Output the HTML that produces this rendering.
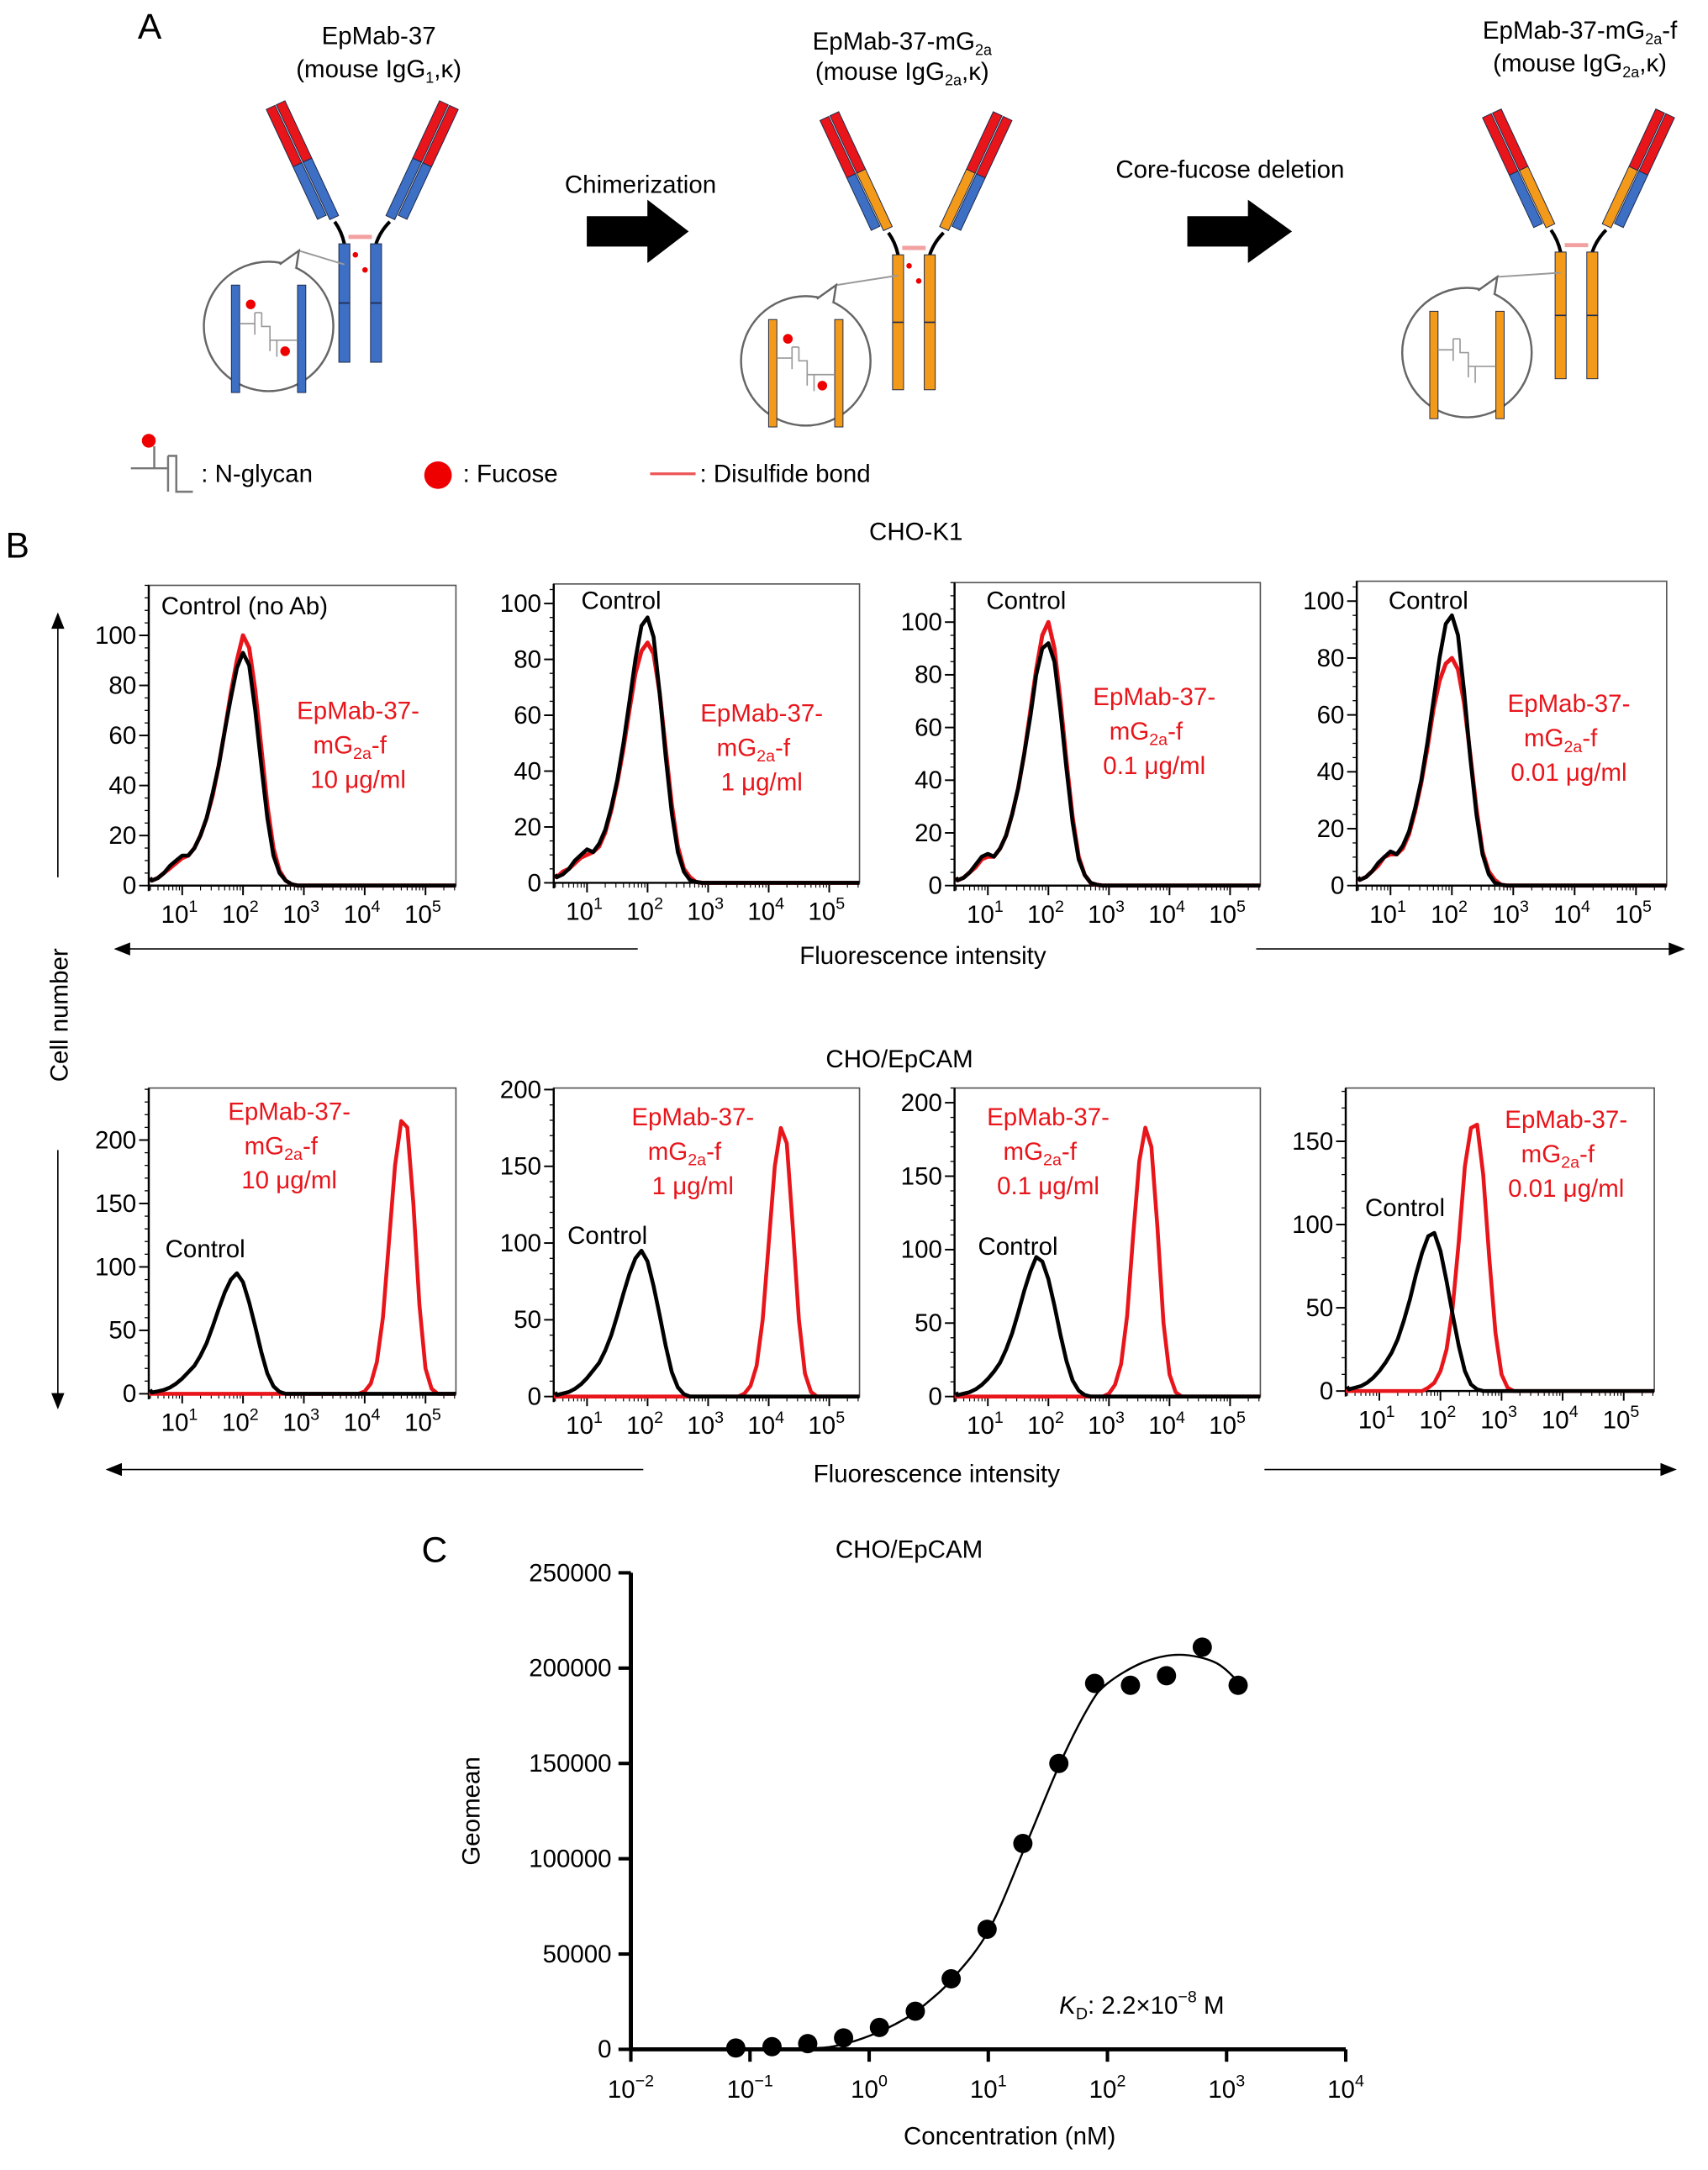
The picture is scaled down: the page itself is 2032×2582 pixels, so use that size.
<!DOCTYPE html>
<html><head><meta charset="utf-8">
<style>
html,body{margin:0;padding:0;background:#fff;}
svg{display:block;font-family:"Liberation Sans",Arial,sans-serif;}
</style></head>
<body>
<svg id="fig" xmlns="http://www.w3.org/2000/svg" width="2032" height="2582" viewBox="0 0 1240 1575.6">
<rect width="1240" height="1575.6" fill="#fff"/>
<!-- Panel A -->
<g id="panelA">
<text x="100" y="28" font-size="26">A</text>
<text x="275" y="32" font-size="18" text-anchor="middle">EpMab-37</text>
<text x="275" y="56" font-size="18" text-anchor="middle">(mouse IgG<tspan font-size="11" dy="4">1</tspan><tspan dy="-4">,κ)</tspan></text>
<text x="655" y="36" font-size="18" text-anchor="middle">EpMab-37-mG<tspan font-size="11" dy="4">2a</tspan></text>
<text x="655" y="58" font-size="18" text-anchor="middle">(mouse IgG<tspan font-size="11" dy="4">2a</tspan><tspan dy="-4">,κ)</tspan></text>
<text x="1147" y="28" font-size="18" text-anchor="middle">EpMab-37-mG<tspan font-size="11" dy="4">2a</tspan><tspan dy="-4">-f</tspan></text>
<text x="1147" y="52" font-size="18" text-anchor="middle">(mouse IgG<tspan font-size="11" dy="4">2a</tspan><tspan dy="-4">,κ)</tspan></text>
<text x="465" y="140" font-size="18" text-anchor="middle">Chimerization</text>
<polygon points="426,157 470,157 470,145 500,168 470,191 470,179 426,179" fill="#000"/>
<text x="893" y="129" font-size="18" text-anchor="middle">Core-fucose deletion</text>
<polygon points="862,157 906,157 906,145 938,168 906,191 906,179 862,179" fill="#000"/>
<g id="abs"></g>
<g>
<path d="M95,340 H122 M112,324 V340 M122,331 H128 V357 H140 M122,331 V357" stroke="#777" stroke-width="1.5" fill="none"/>
<path d="M122,331 H128 V357 H140" stroke="#777" stroke-width="1.5" fill="none"/>
<circle cx="108" cy="320" r="5" fill="#e00"/>
<text x="146" y="350" font-size="18">: N-glycan</text>
<circle cx="318" cy="345" r="10" fill="#e00"/>
<text x="336" y="350" font-size="18">: Fucose</text>
<line x1="472" y1="344" x2="505" y2="344" stroke="#e55" stroke-width="2"/>
<text x="508" y="350" font-size="18">: Disulfide bond</text>
</g>
</g>
<!-- Panel B -->
<g id="panelB">
<text x="4" y="405" font-size="26">B</text>
<text x="665" y="392" font-size="18" text-anchor="middle">CHO-K1</text>
<text x="653" y="775" font-size="18" text-anchor="middle">CHO/EpCAM</text>
<text transform="translate(49,737) rotate(-90)" font-size="18" text-anchor="middle">Cell number</text>
<g stroke="#000" stroke-width="1" fill="#000">
<line x1="42" y1="452" x2="42" y2="637"/><polygon points="38,456 46,456 42,446"/>
<line x1="42" y1="835" x2="42" y2="1016"/><polygon points="38,1012 46,1012 42,1022"/>
<line x1="90" y1="689" x2="463" y2="689"/><polygon points="94,685 94,693 84,689"/>
<line x1="912" y1="689" x2="1216" y2="689"/><polygon points="1212,685 1212,693 1222,689"/>
<line x1="84" y1="1067" x2="467" y2="1067"/><polygon points="88,1063 88,1071 78,1067"/>
<line x1="918" y1="1067" x2="1210" y2="1067"/><polygon points="1206,1063 1206,1071 1216,1067"/>
</g>
<text x="670" y="700" font-size="18" text-anchor="middle">Fluorescence intensity</text>
<text x="680" y="1076" font-size="18" text-anchor="middle">Fluorescence intensity</text>
<g id="hists"></g>
</g>
<!-- Panel C -->
<g id="panelC">
<text x="306" y="1134" font-size="26">C</text>
<text x="660" y="1131" font-size="18" text-anchor="middle">CHO/EpCAM</text>
<text transform="translate(348,1315) rotate(-90)" font-size="18" text-anchor="middle">Geomean</text>
<text x="733" y="1557" font-size="18" text-anchor="middle">Concentration (nM)</text>
<text x="769" y="1462" font-size="18"><tspan font-style="italic">K</tspan><tspan font-size="12" dy="4">D</tspan><tspan dy="-4">: 2.2×10</tspan><tspan font-size="12" dy="-8">−8</tspan><tspan dy="8"> M</tspan></text>
<g id="chartC"></g>
</g>
</svg>
<script>
// ---------- Panel B data ----------
const histLogX = [0.5,0.6,0.7,0.8,0.9,1.0,1.1,1.2,1.3,1.4,1.5,1.6,1.7,1.8,1.9,2.0,2.1,2.2,2.3,2.4,2.5,2.6,2.7,2.8,2.9,3.0];
const r1Control1 = [2,3,5,8,10,12,12,15,20,27,37,48,62,75,87,93,88,70,48,27,12,5,2,0.5,0,0];
const r1Ab1 = [2,3,5,7,9,11,12,15,20,27,36,48,62,77,90,100,95,78,55,32,15,6,2,0.5,0,0];
const r1Control2 = [2,3,5,8,10,12,11,14,19,27,37,50,65,80,92,95,88,68,45,25,11,4,1,0.3,0,0];
const r1Ab2 = [2,4,5,7,9,10,11,13,18,26,36,48,62,75,83,86,82,68,48,28,13,5,2,0.3,0,0];
const r1Control3 = [2,3,5,8,11,12,11,14,19,27,37,50,64,80,90,92,85,66,44,24,10,4,1,0.3,0,0];
const r1Ab3 = [2,3,5,7,10,11,11,14,19,27,37,50,66,82,95,100,90,70,47,26,11,4,1,0.3,0,0];
const r1Control4 = [2,3,5,8,10,12,11,14,19,27,37,50,65,80,92,95,88,68,45,25,11,4,1,0.3,0,0];
const r1Ab4 = [2,3,5,7,10,11,11,13,18,26,36,48,62,72,78,80,76,64,46,27,12,5,2,0.3,0,0];
const r2Control1 = [1,2,3,5,8,12,17,22,30,40,53,67,80,90,95,88,72,53,33,16,6,1.5,0,0,0,0];
const r2Control2 = [1,2,3,5,8,12,17,22,30,40,53,67,80,90,95,88,72,53,33,16,6,1.5,0,0,0,0];
const r2Control3 = [1,2,3,5,8,12,17,23,32,43,57,72,85,95,92,80,62,42,24,11,4,1,0,0,0,0];
const r2Control4 = [1,2,3,5,8,12,17,23,31,42,55,70,83,93,95,84,66,46,27,12,4,1,0,0,0,0];
const r2AbLogX1 = [3.9,4.0,4.1,4.2,4.3,4.4,4.5,4.6,4.7,4.8,4.9,5.0,5.1,5.2];
const r2Ab1 = [0,2,8,25,60,120,180,215,210,150,70,20,4,0];
const r2AbLogX2 = [3.5,3.6,3.7,3.8,3.9,4.0,4.1,4.2,4.3,4.4,4.5,4.6,4.7,4.8];
const r2Ab2 = [0,2,7,20,50,100,150,175,165,110,50,15,3,0];
const r2AbLogX3 = [2.9,3.0,3.1,3.2,3.3,3.4,3.5,3.6,3.7,3.8,3.9,4.0,4.1,4.2];
const r2Ab3 = [0,2,8,22,55,110,160,183,170,115,50,15,3,0];
const r2AbLogX4 = [1.7,1.8,1.9,2.0,2.1,2.2,2.3,2.4,2.5,2.6,2.7,2.8,2.9,3.0,3.1,3.2];
const r2Ab4 = [0,2,5,12,25,50,90,135,158,160,130,80,35,10,2,0];
const row1YTicks = [0,20,40,60,80,100];
const row2YTicks = [0,50,100,150,200];
const row2YTicks4 = [0,50,100,150];
const xDecades = [1,2,3,4,5];
// ---------- Panel C data ----------
const concNM = [0.076,0.153,0.305,0.61,1.22,2.44,4.88,9.77,19.5,39.1,78.1,156,313,625,1250];
const geomean = [700,1400,3000,6000,11500,20000,37000,63000,108000,150000,192000,191000,196000,211000,191000];
const fitConc = [0.3,0.5,1,2,3,5,10,20,40,70,100,200,400,800,1250];
const fitGeomean = [500,1500,7000,16000,24000,37000,62000,105000,150000,180000,192000,203000,207000,203000,193000];
const cYTicks = [0,50000,100000,150000,200000,250000];
const cXDecades = [-2,-1,0,1,2,3,4];

const NS = "http://www.w3.org/2000/svg";
function mk(tag, attrs, parent){const e=document.createElementNS(NS,tag);for(const k in attrs)e.setAttribute(k,attrs[k]);if(parent)parent.appendChild(e);return e;}

// ---------- Antibodies ----------
const abs = document.getElementById('abs');
function antibody(i, dx, dy, heavy, fucose, cx, cy, stemLen){
  const g = mk('g',{transform:`translate(${dx},${dy})`},abs);
  
  
  const blue='#3d6fc4', red='#e8151b', ol='#1c2a4a';
  [[243,160,-25,-1],[283,160,25,1]].forEach(([tx,ty,rot,side])=>{
    const a = mk('g',{transform:`translate(${tx},${ty}) rotate(${rot})`},g);
    const lx = side<0?-11:4, hx = side<0?-3:-4;
    mk('rect',{x:lx,y:-94,width:7,height:46,fill:red,stroke:ol,'stroke-width':0.6},a);
    mk('rect',{x:lx,y:-48,width:7,height:42,fill:blue,stroke:ol,'stroke-width':0.6},a);
    mk('rect',{x:hx,y:-94,width:7,height:46,fill:red,stroke:ol,'stroke-width':0.6},a);
    mk('rect',{x:hx,y:-48,width:7,height:46,fill:heavy,stroke:ol,'stroke-width':0.6},a);
  });
  mk('path',{d:'M243,161 Q248,168 250,177 M283,161 Q276,168 273,177',stroke:'#000','stroke-width':2.5,fill:'none'},g);
  mk('line',{x1:253,y1:172,x2:270,y2:172,stroke:'#f3a0a0','stroke-width':3},g);
  mk('rect',{x:246,y:177,width:8,height:stemLen,fill:heavy,stroke:ol,'stroke-width':0.6},g);
  mk('rect',{x:269,y:177,width:8,height:stemLen,fill:heavy,stroke:ol,'stroke-width':0.6},g);
  mk('line',{x1:246,y1:177+stemLen/2,x2:254,y2:177+stemLen/2,stroke:ol,'stroke-width':1},g);
  mk('line',{x1:269,y1:177+stemLen/2,x2:277,y2:177+stemLen/2,stroke:ol,'stroke-width':1},g);
  if(fucose){mk('circle',{cx:258,cy:185,r:2,fill:'#e00'},g);mk('circle',{cx:265,cy:196,r:2,fill:'#e00'},g);}
  mk('path',{d:`M${cx+14},${cy-44} L${cx+22},${cy-55} L250,192`,stroke:'#999','stroke-width':1.2,fill:'none'},g);
  mk('circle',{cx:cx,cy:cy,r:47,fill:'#fff',stroke:'#666','stroke-width':1.5},g);
  mk('path',{d:`M${cx+8},${cy-45} L${cx+22},${cy-55} L${cx+20},${cy-42}`,stroke:'#666','stroke-width':1.5,fill:'#fff'},g);
  mk('rect',{x:cx-27,y:cy-30,width:6,height:78,fill:heavy,stroke:ol,'stroke-width':0.6},g);
  mk('rect',{x:cx+21,y:cy-30,width:6,height:78,fill:heavy,stroke:ol,'stroke-width':0.6},g);
  mk('path',{d:`M${cx-21},${cy-2} H${cx-10} M${cx-10},${cy-10} V${cy+6} M${cx-10},${cy-10} H${cx-5} M${cx-5},${cy-10} V${cy} H${cx+1} V${cy+18} M${cx+1},${cy+10} H${cx+21} M${cx+6},${cy+10} V${cy+22}`,stroke:'#999','stroke-width':1,fill:'none'},g);
  if(fucose){mk('circle',{cx:cx-13,cy:cy-16,r:3.5,fill:'#e00'},g);mk('circle',{cx:cx+12,cy:cy+18,r:3.5,fill:'#e00'},g);}
}
antibody(1,0,0,'#3d6fc4',true,195,237,86);
antibody(2,402,8,'#f39a1a',true,183,254,98);
antibody(3,883,6,'#f39a1a',false,182,250,92);

// ---------- Histograms ----------
const hists = document.getElementById('hists');
const panels = [
 {x0:108,x1:331,yTop:425,y0:643,ymax:120,ticks:row1YTicks,minor:5,c:r1Control1,cx:histLogX,r:r1Ab1,rx:histLogX,row:1,ctl:'Control (no Ab)',ctlX:117,ctlY:446,lx:260,ly:522,conc:'10 μg/ml'},
 {x0:402,x1:624,yTop:424,y0:641,ymax:107,ticks:row1YTicks,minor:5,c:r1Control2,cx:histLogX,r:r1Ab2,rx:histLogX,row:1,ctl:'Control',ctlX:422,ctlY:442,lx:553,ly:524,conc:'1 μg/ml'},
 {x0:693,x1:915,yTop:423,y0:643,ymax:115,ticks:row1YTicks,minor:5,c:r1Control3,cx:histLogX,r:r1Ab3,rx:histLogX,row:1,ctl:'Control',ctlX:716,ctlY:442,lx:838,ly:512,conc:'0.1 μg/ml'},
 {x0:985,x1:1210,yTop:422,y0:643,ymax:107,ticks:row1YTicks,minor:5,c:r1Control4,cx:histLogX,r:r1Ab4,rx:histLogX,row:1,ctl:'Control',ctlX:1008,ctlY:442,lx:1139,ly:517,conc:'0.01 μg/ml'},
 {x0:108,x1:331,yTop:790,y0:1012,ymax:241,ticks:row2YTicks,minor:10,c:r2Control1,cx:histLogX,r:r2Ab1,rx:r2AbLogX1,row:2,ctl:'Control',ctlX:120,ctlY:913,lx:210,ly:813,conc:'10 μg/ml'},
 {x0:402,x1:624,yTop:790,y0:1014,ymax:201,ticks:row2YTicks,minor:10,c:r2Control2,cx:histLogX,r:r2Ab2,rx:r2AbLogX2,row:2,ctl:'Control',ctlX:412,ctlY:903,lx:503,ly:817,conc:'1 μg/ml'},
 {x0:693,x1:915,yTop:790,y0:1014,ymax:210,ticks:row2YTicks,minor:10,c:r2Control3,cx:histLogX,r:r2Ab3,rx:r2AbLogX3,row:2,ctl:'Control',ctlX:710,ctlY:911,lx:761,ly:817,conc:'0.1 μg/ml'},
 {x0:977,x1:1201,yTop:790,y0:1010,ymax:182,ticks:row2YTicks4,minor:10,c:r2Control4,cx:histLogX,r:r2Ab4,rx:r2AbLogX4,row:2,ctl:'Control',ctlX:991,ctlY:883,lx:1137,ly:819,conc:'0.01 μg/ml'}
];
panels.forEach((p,i)=>{
  const g = mk('g',{},hists);
  
  
  const X = lg => p.x0 + (lg-0.45)/5.05*(p.x1-p.x0);
  const Y = v => p.y0 - v/p.ymax*(p.y0-p.yTop);
  mk('rect',{x:p.x0,y:p.yTop,width:p.x1-p.x0,height:p.y0-p.yTop,fill:'none',stroke:'#555','stroke-width':1},g);
  mk('line',{x1:p.x0,y1:p.yTop,x2:p.x0,y2:p.y0+4,stroke:'#000','stroke-width':1.5},g);
  mk('line',{x1:p.x0,y1:p.y0,x2:p.x1,y2:p.y0,stroke:'#000','stroke-width':1.5},g);
  // y ticks
  for(let v=0; v<=p.ymax; v+=p.minor){
    const y=Y(v);
    mk('line',{x1:p.x0-3,y1:y,x2:p.x0,y2:y,stroke:'#000','stroke-width':0.8},g);
  }
  p.ticks.forEach(v=>{
    const y=Y(v);
    mk('line',{x1:p.x0-7,y1:y,x2:p.x0,y2:y,stroke:'#000','stroke-width':1.2},g);
    const t=mk('text',{x:p.x0-9,y:y+6,'font-size':18,'text-anchor':'end'},g);
    t.textContent=v;
    
    
  });
  // x ticks
  for(let d=0; d<=5; d++){
    for(let m=1;m<=9;m++){
      const lg=d+Math.log10(m);
      if(lg<0.45||lg>5.5) continue;
      const x=X(lg);
      mk('line',{x1:x,y1:p.y0,x2:x,y2:p.y0+(m===1?7:3.5),stroke:'#000','stroke-width':m===1?1.2:0.7},g);
    }
  }
  xDecades.forEach(d=>{
    const t=mk('text',{x:X(d)-2,y:p.y0+27,'font-size':18,'text-anchor':'middle'},g);
    
    
    t.innerHTML='10<tspan font-size="12" dy="-8">'+d+'</tspan>';
  });
  function series(xs,ys,color,w,name,baseline){
    let d='';
    if(baseline) d+=`M${p.x0},${p.y0} L${X(xs[0])},${Y(ys[0])} `;
    else d+=`M${p.x0+1},${Y(ys[0])-2} L${X(xs[0])},${Y(ys[0])} `;
    for(let k=1;k<xs.length;k++) d+=`L${X(xs[k]).toFixed(1)},${Y(ys[k]).toFixed(1)} `;
    d+=`L${p.x1},${p.y0}`;
    const path=mk('path',{d:d,stroke:color,'stroke-width':w,fill:'none','stroke-linejoin':'round'},g);
    
    
  }
  if(p.row===1){
    series(p.rx,p.r,'#e8151b',3,'ab-histogram',false);
    series(p.cx,p.c,'#000',2.8,'control-histogram',false);
  } else {
    series(p.rx,p.r,'#e8151b',2.8,'ab-histogram',true);
    series(p.cx,p.c,'#000',2.8,'control-histogram',false);
  }
  const ct=mk('text',{x:p.ctlX,y:p.ctlY,'font-size':18},g);
  ct.textContent=p.ctl;
  
  
  const lab=mk('text',{x:p.lx,y:p.ly,'font-size':18,'text-anchor':'middle',fill:'#e8151b'},g);
  
  
  lab.innerHTML=`<tspan x="${p.lx}" dy="0">EpMab-37-</tspan><tspan x="${p.lx-6}" dy="25">mG</tspan><tspan font-size="12" dy="4">2a</tspan><tspan dy="-4">-f</tspan><tspan x="${p.lx}" dy="25">${p.conc}</tspan>`;
});

// ---------- Panel C ----------
const C = document.getElementById('chartC');
const cx0=458, cx1=977, cy0=1488, cy1=1142;
const CX = c => cx0 + (Math.log10(c)+2)/6*(cx1-cx0);
const CY = v => cy0 - v/250000*(cy0-cy1);
mk('line',{x1:cx0,y1:cy1,x2:cx0,y2:cy0,stroke:'#000','stroke-width':3},C);
mk('line',{x1:cx0,y1:cy0,x2:cx1,y2:cy0,stroke:'#000','stroke-width':3},C);
cYTicks.forEach(v=>{
  const y=CY(v);
  mk('line',{x1:cx0-9,y1:y,x2:cx0,y2:y,stroke:'#000','stroke-width':2.5},C);
  const t=mk('text',{x:cx0-14,y:y+6,'font-size':18,'text-anchor':'end'},C);
  t.textContent=v;
  
  
});
cXDecades.forEach(d=>{
  const x=CX(Math.pow(10,d));
  mk('line',{x1:x,y1:cy0,x2:x,y2:cy0+9,stroke:'#000','stroke-width':2.5},C);
  const t=mk('text',{x:x,y:cy0+35,'font-size':18,'text-anchor':'middle'},C);
  
  
  t.innerHTML='10<tspan font-size="12" dy="-8">'+(d<0?'−'+(-d):d)+'</tspan>';
});
// fit curve (Catmull-Rom)
const pts = fitConc.map((c,k)=>[CX(c),CY(fitGeomean[k])]);
let d=`M${pts[0][0]},${pts[0][1]}`;
for(let k=0;k<pts.length-1;k++){
  const p0=pts[Math.max(k-1,0)],p1=pts[k],p2=pts[k+1],p3=pts[Math.min(k+2,pts.length-1)];
  const c1=[p1[0]+(p2[0]-p0[0])/6,p1[1]+(p2[1]-p0[1])/6];
  const c2=[p2[0]-(p3[0]-p1[0])/6,p2[1]-(p3[1]-p1[1])/6];
  d+=` C${c1[0].toFixed(1)},${c1[1].toFixed(1)} ${c2[0].toFixed(1)},${c2[1].toFixed(1)} ${p2[0].toFixed(1)},${p2[1].toFixed(1)}`;
}
const fit=mk('path',{d:d,stroke:'#000','stroke-width':1.5,fill:'none'},C);


concNM.forEach((c,k)=>{
  const pt=mk('circle',{cx:CX(c),cy:CY(geomean[k]),r:7,fill:'#000'},C);
  
  
});
</script>
</body></html>
